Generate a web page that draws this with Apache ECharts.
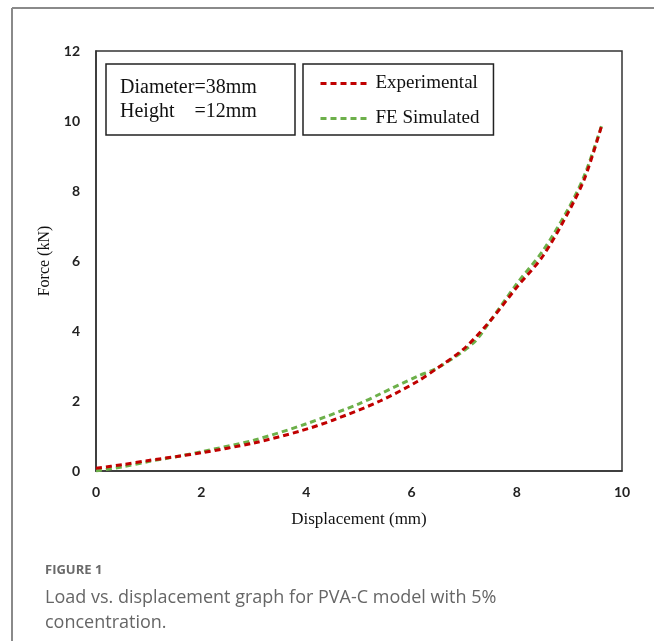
<!DOCTYPE html>
<html><head><meta charset="utf-8">
<script src="https://cdn.jsdelivr.net/npm/echarts@6/dist/echarts.min.js"></script>
<style>html,body{margin:0;padding:0;background:#fff}#c{width:654px;height:641px}</style>
</head><body><div id="c"></div>
<script>
const expX = [0, 0.5, 1, 1.6, 2, 3, 3.9, 4.5, 5.4, 6.1, 6.5, 7.0, 7.5, 8.0, 8.5, 9.0, 9.3, 9.62];
const expY = [0.08, 0.18, 0.3, 0.43, 0.52, 0.8, 1.15, 1.45, 2.0, 2.55, 2.95, 3.5, 4.3, 5.25, 6.15, 7.45, 8.4, 9.9];
const simX = [0, 0.5, 1, 1.6, 2, 3, 4, 5, 5.4, 6.1, 6.5, 7.17, 7.5, 8.0, 8.5, 9.0, 9.3, 9.62];
const simY = [0.0, 0.12, 0.27, 0.43, 0.55, 0.88, 1.35, 1.92, 2.2, 2.7, 2.95, 3.65, 4.3, 5.35, 6.3, 7.55, 8.5, 9.9];
const xTicks = [0, 2, 4, 6, 8, 10];
const yTicks = [0, 2, 4, 6, 8, 10, 12];
const seriesNames = ['Experimental', 'FE Simulated'];
const noteLines = ['Diameter=38mm', 'Height    =12mm'];
const captionTitle = 'FIGURE 1';
const captionText = 'Load vs. displacement graph for PVA-C model with 5%\nconcentration.';

const chart = echarts.init(document.getElementById('c'), null, {renderer: 'canvas'});
const tickFont = {fontFamily: 'Lato', fontWeight: 'bold', fontSize: 14, color: '#222'};
chart.setOption({
  animation: false,
  backgroundColor: '#fff',
  grid: {left: 96, right: 32, top: 51, bottom: 170, show: true, borderColor: '#333', borderWidth: 1.5},
  xAxis: {
    type: 'value', min: 0, max: 10, interval: 2,
    name: 'Displacement (mm)', nameLocation: 'middle', nameGap: 40,
    nameTextStyle: {fontFamily: 'Liberation Serif', fontSize: 17, color: '#111'},
    axisLine: {show: true, lineStyle: {color: '#333', width: 1.5}},
    axisTick: {show: false}, splitLine: {show: false},
    axisLabel: Object.assign({margin: 14, formatter: v => xTicks.includes(v) ? String(v) : ''}, tickFont)
  },
  yAxis: {
    type: 'value', min: 0, max: 12, interval: 2,
    name: 'Force (kN)', nameLocation: 'middle', nameGap: 42,
    nameTextStyle: {fontFamily: 'Liberation Serif', fontSize: 16, color: '#111'},
    axisLine: {show: true, lineStyle: {color: '#333', width: 1.5}},
    axisTick: {show: false}, splitLine: {show: false},
    axisLabel: Object.assign({margin: 16, formatter: v => yTicks.includes(v) ? String(v) : ''}, tickFont)
  },
  legend: {
    orient: 'vertical', left: 303, top: 64,
    padding: [10, 14, 7, 16],
    borderColor: '#222', borderWidth: 1.5,
    itemWidth: 48, itemHeight: 12, itemGap: 16,
    itemStyle: {opacity: 0},
    lineStyle: {width: 3},
    textStyle: {fontFamily: 'Liberation Serif', fontSize: 19, color: '#111', padding: [0, 0, 0, 2]},
    data: seriesNames
  },
  series: [
    {name: seriesNames[0], type: 'line', showSymbol: false, symbol: 'none', smooth: 0.3,
     data: expX.map((x, i) => [x, expY[i]]), z: 3,
     lineStyle: {color: '#C00000', width: 3, type: [6, 4]}, itemStyle: {color: '#C00000'}},
    {name: seriesNames[1], type: 'line', showSymbol: false, symbol: 'none', smooth: 0.3,
     data: simX.map((x, i) => [x, simY[i]]), z: 2,
     lineStyle: {color: '#6DB04A', width: 3, type: [6, 4]}, itemStyle: {color: '#6DB04A'}}
  ],
  graphic: [
    {type: 'line', shape: {x1: 12, y1: 8, x2: 654, y2: 8}, style: {stroke: '#8a8a8a', lineWidth: 2}},
    {type: 'line', shape: {x1: 12, y1: 8, x2: 12, y2: 641}, style: {stroke: '#8a8a8a', lineWidth: 2}},
    {type: 'rect', shape: {x: 106, y: 64, width: 189, height: 71}, style: {fill: '#fff', stroke: '#222', lineWidth: 1.5}},
    {type: 'text', left: 120, top: 76, style: {text: noteLines.join('\n'), fontFamily: 'Liberation Serif', fontSize: 20, lineHeight: 24, fill: '#111'}},
    {type: 'text', left: 45, top: 564, style: {text: captionTitle, fontFamily: 'Open Sans', fontWeight: 'bold', fontSize: 13, fill: '#6a6a6a'}},
    {type: 'text', left: 45, top: 585, style: {text: captionText, fontFamily: 'Open Sans', fontSize: 18, lineHeight: 25, fill: '#666'}}
  ]
});
</script></body></html>
